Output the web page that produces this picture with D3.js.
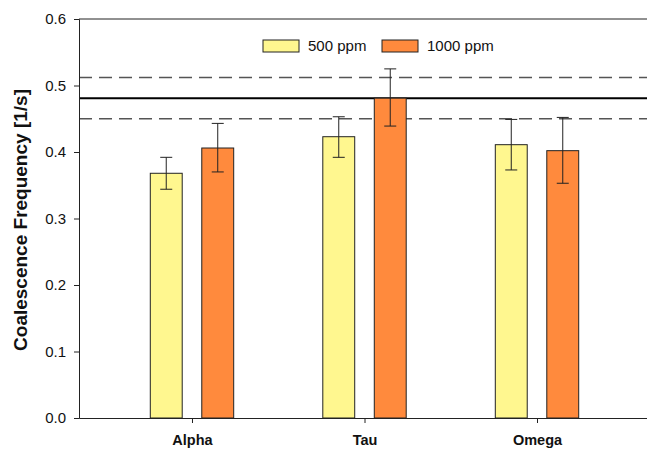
<!DOCTYPE html>
<html><head><meta charset="utf-8">
<script src="https://cdn.jsdelivr.net/npm/d3@7"></script>
<style>body{margin:0;background:#fff;} svg{display:block;font-family:Arial,"Liberation Sans",sans-serif;}</style>
</head><body>
<script>
const categories = ["Alpha", "Tau", "Omega"];
const seriesNames = ["500 ppm", "1000 ppm"];
const values500 = [0.368, 0.423, 0.411];
const values1000 = [0.406, 0.481, 0.402];
const errHi500 = [0.392, 0.453, 0.449];
const errLo500 = [0.344, 0.392, 0.373];
const errHi1000 = [0.443, 0.525, 0.452];
const errLo1000 = [0.370, 0.439, 0.353];
const refMean = 0.481;
const refBand = [0.450, 0.512];
const yTicks = [0.0, 0.1, 0.2, 0.3, 0.4, 0.5, 0.6];
const colors = ["#fff78f", "#ff8a3d"];

(function () {
const W = 647, H = 450;
const svg = d3.select("body").append("svg").attr("width", W).attr("height", H);
const mLeft = 79, mRight = 650, mTop = 19, mBottom = 418;

const x = d3.scalePoint().domain(categories).range([mLeft, mRight]).padding(0.655);
const y = d3.scaleLinear().domain([0, 0.6]).range([mBottom, mTop]);
const off = d3.scaleBand().domain(seriesNames).range([-52, 52]).paddingInner(0.38).paddingOuter(0.2);

svg.selectAll("line.dash").data(refBand).enter().append("line")
  .attr("x1", mLeft).attr("x2", W).attr("y1", d => y(d)).attr("y2", d => y(d))
  .attr("stroke", "#555").attr("stroke-width", 1.5).attr("stroke-dasharray", "13,7");
svg.append("line").attr("x1", mLeft).attr("x2", W).attr("y1", y(refMean)).attr("y2", y(refMean))
  .attr("stroke", "#000").attr("stroke-width", 2);

const data = [];
categories.forEach((c, i) => {
  data.push({c, s: seriesNames[0], v: values500[i], hi: errHi500[i], lo: errLo500[i], col: colors[0]});
  data.push({c, s: seriesNames[1], v: values1000[i], hi: errHi1000[i], lo: errLo1000[i], col: colors[1]});
});

svg.selectAll("rect.bar").data(data).enter().append("rect")
  .attr("x", d => x(d.c) + off(d.s)).attr("width", off.bandwidth())
  .attr("y", d => y(d.v)).attr("height", d => y(0) - y(d.v))
  .attr("fill", d => d.col).attr("stroke", "#222").attr("stroke-width", 1);

const eb = svg.selectAll("g.err").data(data).enter().append("g")
  .attr("transform", d => `translate(${x(d.c) + off(d.s) + off.bandwidth()/2},0)`);
eb.append("line").attr("y1", d => y(d.hi)).attr("y2", d => y(d.lo)).attr("stroke", "#222");
eb.append("line").attr("x1", -6).attr("x2", 6).attr("y1", d => y(d.hi)).attr("y2", d => y(d.hi)).attr("stroke", "#222");
eb.append("line").attr("x1", -6).attr("x2", 6).attr("y1", d => y(d.lo)).attr("y2", d => y(d.lo)).attr("stroke", "#222");

const yAxis = svg.append("g").attr("transform", `translate(${mLeft},0)`)
  .call(d3.axisLeft(y).tickValues(yTicks).tickFormat(d3.format(".1f")).tickSize(5).tickPadding(8));
yAxis.select(".domain").attr("stroke", "#222");
yAxis.selectAll("line").attr("stroke", "#222");
yAxis.selectAll("text").attr("font-size", 15).attr("fill", "#111").attr("font-family", "Arial, 'Liberation Sans', sans-serif");

const xAxis = svg.append("g").attr("transform", `translate(0,${mBottom})`)
  .call(d3.axisBottom(x).tickSize(5).tickSizeOuter(0).tickPadding(12));
xAxis.select(".domain").attr("stroke", "#222");
xAxis.selectAll("line").attr("stroke", "#222");
xAxis.selectAll("text").attr("font-size", 14.5).attr("font-weight", "bold").attr("fill", "#111")
  .attr("font-family", "Arial, 'Liberation Sans', sans-serif");

svg.append("line").attr("x1", mLeft).attr("x2", W).attr("y1", mTop).attr("y2", mTop).attr("stroke", "#222");

svg.append("text").attr("transform", `translate(27,220) rotate(-90)`)
  .attr("text-anchor", "middle").attr("font-size", 19).attr("font-weight", "bold").attr("fill", "#111")
  .text("Coalescence Frequency [1/s]");

const lg = svg.append("g");
const lx = [263, 382];
seriesNames.forEach((s, i) => {
  lg.append("rect").attr("x", lx[i]).attr("y", 40).attr("width", 36).attr("height", 12)
    .attr("fill", colors[i]).attr("stroke", "#222");
  lg.append("text").attr("x", lx[i] + 45).attr("y", 51).attr("font-size", 15).attr("fill", "#111").text(s);
});
})();
</script>
</body></html>
